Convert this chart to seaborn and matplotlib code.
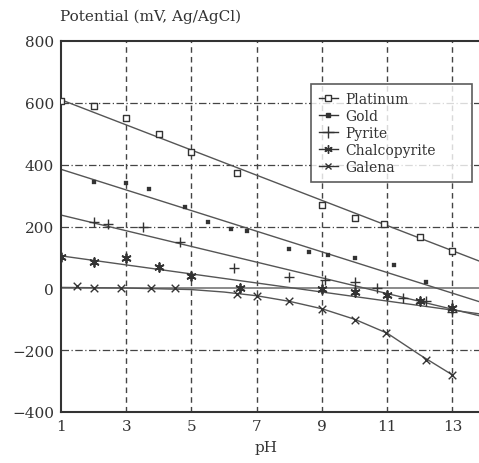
import pandas as pd
import matplotlib.pyplot as plt
import seaborn as sns
from matplotlib.lines import Line2D

ph_platinum = [1, 2, 3, 4, 5, 6.4, 9, 10, 10.9, 12, 13]
platinum = [605, 590, 550, 500, 440, 373, 269, 227, 207, 165, 120]

ph_gold = [2, 3, 3.7, 4.8, 5.5, 6.2, 6.7, 8.0, 8.6, 9.2, 10.0, 11.2, 12.2]
gold = [345, 340, 321, 262, 215, 191, 185, 126, 117, 107, 97, 75, 20]

ph_pyrite = [2.0, 2.45, 3.5, 4.65, 6.3, 8.0, 9.1, 10.0, 10.7, 11.5, 12.2, 13.0]
pyrite = [214, 207, 198, 149, 65, 36, 27, 19, 0, -30, -41, -75]

ph_chalco = [1, 2, 3, 4, 5, 6.5, 9, 10, 11, 12, 13]
chalco = [100, 84, 97, 68, 40, 0, -3, -12, -22, -41, -65]

ph_galena = [1.5, 2, 2.85, 3.75, 4.5, 6.4, 7, 8, 9, 10, 10.95, 12.2, 13]
galena = [6, 0, 0, 0, 0, -19, -25, -41, -68, -103, -146, -233, -279]

# trend lines (straight fits, galena is a curve)
fit_ph = [1, 14]
platinum_fit = [610, 81]
gold_fit = [385, -49]
pyrite_fit = [237, -93]
chalco_fit = [105, -85]
galena_curve_ph = [1, 3, 5, 6, 7, 8, 9, 10, 11, 12, 13]
galena_curve = [3, 1, -4, -12, -24, -42, -66, -100, -145, -215, -280]

x_ticks = [1, 3, 5, 7, 9, 11, 13]
y_ticks = [-400, -200, 0, 200, 400, 600, 800]

plt.rcParams['font.family'] = ['DejaVu Serif']
ink = "#333333"
line_col = "#555555"

fig = plt.figure(figsize=(4.79, 4.64), dpi=100)
ax = fig.add_axes([61 / 479, 51 / 464, (485 - 61) / 479, (413 - 42) / 464])

# grid: dashed verticals, dash-dot horizontals, solid zero line
for x in x_ticks[1:]:
    ax.axvline(x, color="#444444", linewidth=1, linestyle=(0, (4, 3)), zorder=1)
for y in [-200, 200, 400, 600]:
    ax.axhline(y, color="#444444", linewidth=0.9, linestyle=(0, (6, 2, 1, 2)), zorder=1)
ax.axhline(0, color="#777777", linewidth=1.2, zorder=1)

# fit lines
for y_fit in [platinum_fit, gold_fit, pyrite_fit, chalco_fit]:
    sns.lineplot(x=fit_ph, y=y_fit, color=line_col, linewidth=1, ax=ax, zorder=2)
sns.lineplot(x=galena_curve_ph, y=galena_curve, color=line_col, linewidth=1, ax=ax, zorder=2, sort=False)

# points
series = [
    ("Platinum", ph_platinum, platinum, dict(marker="s", s=22, facecolor="white", edgecolor=ink, linewidth=1)),
    ("Gold", ph_gold, gold, dict(marker="s", s=8, color=ink, edgecolor=ink)),
    ("Pyrite", ph_pyrite, pyrite, dict(marker="+", s=60, color=ink, linewidth=1)),
    ("Chalcopyrite", ph_chalco, chalco, dict(marker=(6, 2, 0), s=40, color=ink, linewidth=1.3)),
    ("Galena", ph_galena, galena, dict(marker="x", s=30, color=ink, linewidth=1)),
]
for name, xs, ys, kw in series:
    sns.scatterplot(x=xs, y=ys, ax=ax, zorder=3, **kw)

ax.set_xlim(1, 14)
ax.set_ylim(-400, 800)
ax.set_xticks(x_ticks)
ax.set_yticks(y_ticks)
ax.tick_params(length=0, labelsize=11, colors=ink, pad=5)
for side in ["left", "bottom", "top", "right"]:
    ax.spines[side].set_color(ink)
    ax.spines[side].set_linewidth(1.5)
ax.set_xlabel("")
ax.set_ylabel("")

fig.text(60 / 479, 1 - 17 / 464, "Potential (mV, Ag/AgCl)", fontsize=11, color=ink, va="center", ha="left")
fig.text(266 / 479, 1 - 448 / 464, "pH", fontsize=11, color=ink, va="center", ha="center")

handles = [
    Line2D([], [], color=ink, linewidth=1, marker="s", markersize=4, markerfacecolor="white", markeredgecolor=ink),
    Line2D([], [], color=ink, linewidth=1, marker="s", markersize=2.5, markerfacecolor=ink, markeredgecolor=ink),
    Line2D([], [], color=ink, linewidth=1, marker="+", markersize=8, markeredgecolor=ink),
    Line2D([], [], color=ink, linewidth=1, marker=(6, 2, 0), markersize=6, markeredgecolor=ink),
    Line2D([], [], color=ink, linewidth=1, marker="x", markersize=5, markeredgecolor=ink),
]
leg_top = 1 - (85 - 42) / 371
leg_h = (179 - 85) / 371
leg = ax.legend(handles, [s[0] for s in series], loc="upper left", mode="expand",
                bbox_to_anchor=((311 - 61) / 424, leg_top - leg_h, (472 - 311) / 424, leg_h),
                borderaxespad=0, fontsize=10, frameon=True, fancybox=False,
                edgecolor=ink, handlelength=1.4, handletextpad=0.5,
                labelspacing=0.22, borderpad=0.55, labelcolor=ink)
leg.get_frame().set_linewidth(1.2)

plt.savefig("out.png", dpi=100)
